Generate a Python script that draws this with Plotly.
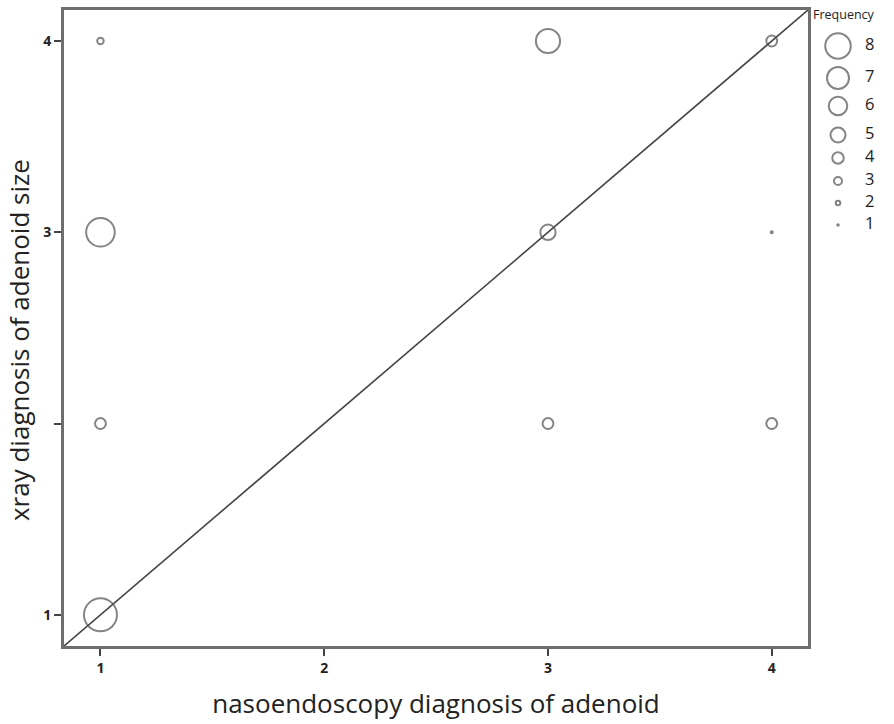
import plotly.graph_objects as go

# ---- data ----
nasoendoscopy = [1, 1, 1, 1, 3, 3, 3, 4, 4, 4]
xray = [1, 2, 3, 4, 2, 3, 4, 2, 3, 4]
frequency = [8, 3, 7, 2, 3, 4, 6, 3, 1, 3]
legend_freq = [8, 7, 6, 5, 4, 3, 2, 1]
x_ticks = [1, 2, 3, 4]
x_ticktext = ["1", "2", "3", "4"]
y_ticks = [1, 2, 3, 4]
y_ticktext = ["1", "", "3", "4"]

# ---- layout constants ----
W, H = 894, 724
ML, MR, MT, MB = 64, 0, 10, 78
PLOT_RIGHT = 808
AX_RANGE = [0.837, 4.162]
MARKER_LW = 2.0
LINE_COL = "#505050"
FONT = "Open Sans"

plot_w = W - ML - MR
plot_h = H - MT - MB
dom_end = (PLOT_RIGHT - ML) / plot_w

def px_to_paper(px, py):
    return (px - ML) / plot_w, (H - MB - py) / plot_h

def plot_size(f):
    return max(4.43 * f - 0.4 - MARKER_LW, 2)

def legend_size(f):
    return max(3.5 * f - 0.5 - MARKER_LW, 1.6)

legend_y = [46, 78, 106, 135, 158, 181, 203, 225]  # pixel rows of legend entries

fig = go.Figure()

# identity reference line across the plot
fig.add_shape(type="line", xref="x", yref="y",
              x0=AX_RANGE[0], y0=AX_RANGE[0], x1=AX_RANGE[1], y1=AX_RANGE[1],
              line=dict(color="#444", width=1.6), layer="below")

fig.add_trace(go.Scatter(
    x=nasoendoscopy, y=xray, mode="markers",
    marker=dict(symbol="circle-open", size=[plot_size(f) for f in frequency],
                color=LINE_COL, line=dict(width=MARKER_LW, color=LINE_COL)),
    showlegend=False, hoverinfo="skip"))

# custom size legend on an overlay axis in pixel units
fig.add_trace(go.Scatter(
    x=[838] * len(legend_freq), y=legend_y, mode="markers",
    marker=dict(symbol="circle-open", size=[legend_size(f) for f in legend_freq],
                color=LINE_COL, line=dict(width=MARKER_LW, color=LINE_COL)),
    xaxis="x2", yaxis="y2", showlegend=False, hoverinfo="skip", cliponaxis=False))
fig.add_trace(go.Scatter(
    x=[865] * len(legend_freq), y=legend_y, mode="text",
    text=[str(f) for f in legend_freq], textposition="middle right",
    textfont=dict(family=FONT, size=16.5, color="#222"),
    xaxis="x2", yaxis="y2", showlegend=False, hoverinfo="skip", cliponaxis=False))

fig.add_annotation(x=811, y=14, xref="x2", yref="y2", text="Frequency",
                   showarrow=False, xanchor="left", yanchor="middle",
                   font=dict(family=FONT, size=12.5, color="#222"))

# y-axis title placed as annotation (centred slightly below plot centre, as in source)
tx, ty = px_to_paper(19, 340)
fig.add_annotation(x=tx, y=ty, xref="paper", yref="paper", text="xray diagnosis of adenoid size",
                   showarrow=False, textangle=-90, xanchor="center", yanchor="middle",
                   font=dict(family=FONT, size=26, color="#222"))

axis_common = dict(showline=True, mirror=True, linewidth=3, linecolor="#6e6e6e",
                   showgrid=False, zeroline=False, ticks="outside", ticklen=7,
                   tickwidth=2, tickcolor="#444",
                   tickfont=dict(family=FONT, size=14, color="#222", weight="bold"))

fig.update_layout(
    width=W, height=H, margin=dict(l=ML, r=MR, t=MT, b=MB, autoexpand=False),
    paper_bgcolor="white", plot_bgcolor="white",
    xaxis=dict(domain=[0, dom_end], range=AX_RANGE, tickvals=x_ticks, ticktext=x_ticktext,
               title=dict(text="nasoendoscopy diagnosis of adenoid", standoff=20,
                          font=dict(family=FONT, size=26, color="#222")),
               **axis_common),
    yaxis=dict(range=AX_RANGE, tickvals=y_ticks, ticktext=y_ticktext, ticklabelstandoff=0,
               **axis_common),
    xaxis2=dict(domain=[dom_end, 1], range=[PLOT_RIGHT, W], visible=False, anchor="y2"),
    yaxis2=dict(domain=[0, 1], range=[H - MB, MT], visible=False, anchor="x2"),
)

fig.write_html("out.html")
